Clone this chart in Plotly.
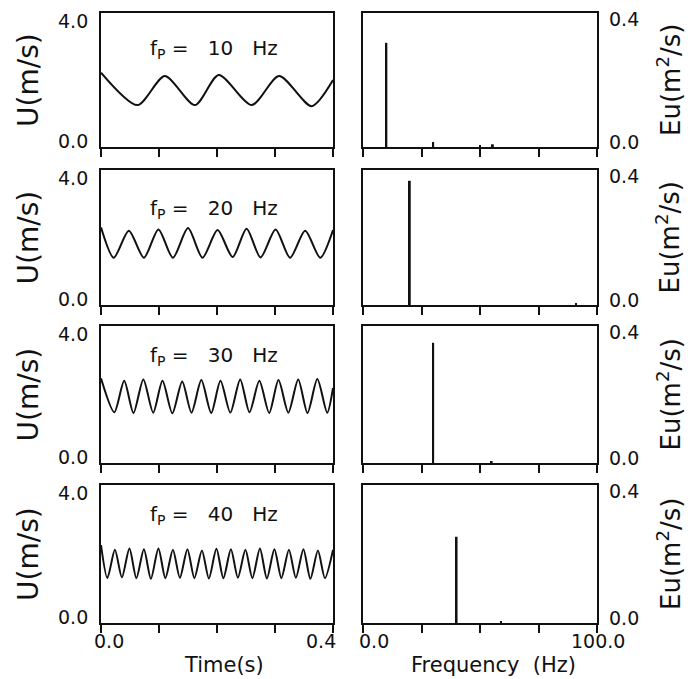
import plotly.graph_objects as go

# ---- velocity traces U(t) for each forcing frequency ----
t10 = [0.000, 0.063, 0.110, 0.162, 0.203, 0.260, 0.307, 0.363, 0.400]
u10 = [2.22, 1.25, 2.12, 1.25, 2.15, 1.25, 2.12, 1.22, 2.00]

t20 = [0.000, 0.022, 0.048, 0.074, 0.099, 0.124, 0.150, 0.175, 0.201,
       0.227, 0.251, 0.275, 0.301, 0.326, 0.352, 0.378, 0.400]
u20 = [2.30, 1.40, 2.20, 1.40, 2.24, 1.40, 2.28, 1.40, 2.22,
       1.42, 2.26, 1.41, 2.24, 1.40, 2.20, 1.40, 2.22]

t30 = [0.000, 0.023, 0.040, 0.056, 0.073, 0.090, 0.106, 0.123, 0.140,
       0.156, 0.173, 0.190, 0.206, 0.223, 0.240, 0.256, 0.273, 0.290,
       0.306, 0.323, 0.340, 0.356, 0.373, 0.390, 0.400]
u30 = [2.47, 1.48, 2.40, 1.46, 2.44, 1.47, 2.40, 1.45, 2.38,
       1.47, 2.42, 1.46, 2.40, 1.47, 2.44, 1.48, 2.40, 1.46,
       2.42, 1.47, 2.44, 1.46, 2.45, 1.47, 2.19]

t40 = [0.000, 0.011, 0.024, 0.036, 0.049, 0.061, 0.074, 0.086, 0.099,
       0.111, 0.124, 0.136, 0.149, 0.161, 0.174, 0.186, 0.199, 0.211,
       0.224, 0.236, 0.249, 0.261, 0.274, 0.286, 0.299, 0.311, 0.324,
       0.336, 0.349, 0.361, 0.374, 0.386, 0.400]
u40 = [2.26, 1.30, 2.12, 1.32, 2.16, 1.30, 2.14, 1.28, 2.16,
       1.30, 2.12, 1.31, 2.14, 1.30, 2.10, 1.29, 2.15, 1.30,
       2.14, 1.31, 2.12, 1.30, 2.16, 1.29, 2.14, 1.30, 2.12,
       1.31, 2.14, 1.28, 2.10, 1.30, 2.12]

# ---- energy spectra Eu(f) ----
f10 = [10.0, 30.0, 50.0, 55.5]
e10 = [0.311, 0.015, 0.006, 0.008]
f20 = [20.0, 91.0]
e20 = [0.368, 0.003]
f30 = [30.0, 55.0]
e30 = [0.351, 0.004]
f40 = [40.0, 59.0]
e40 = [0.250, 0.004]

forcing = ["10", "20", "30", "40"]
times = [t10, t20, t30, t40]
speeds = [u10, u20, u30, u40]
freqs = [f10, f20, f30, f40]
energies = [e10, e20, e30, e40]

time_ticks = [0.0, 0.1, 0.2, 0.3, 0.4]
freq_ticks = [0.0, 25.0, 50.0, 75.0, 100.0]

W, H = 700, 679
FONT = "DejaVu Sans"
INK = "#111111"
NB = "\u00a0"

# panel frame positions in pixels
left_x = (101, 333)
right_x = (363, 597)
panel_top = [13, 170, 326, 485]
panel_bot = [147, 305, 463, 623]
label_y = [49, 209, 356, 515]


def fx(px):
    return px / W


def fy(py):
    return 1 - py / H


fig = go.Figure()
layout = dict(
    width=W, height=H,
    margin=dict(l=0, r=0, t=0, b=0),
    paper_bgcolor="white", plot_bgcolor="white",
    showlegend=False,
    font=dict(family=FONT, color=INK),
)

axis_common = dict(
    showgrid=False, zeroline=False, showline=True, mirror=True,
    linecolor=INK, linewidth=1.5, showticklabels=False,
)

annotations = []

for i in range(4):
    n_l = 2 * i + 1
    n_r = 2 * i + 2
    ydom = [fy(panel_bot[i]), fy(panel_top[i])]

    fig.add_trace(go.Scatter(
        x=times[i], y=speeds[i], mode="lines",
        line=dict(color=INK, width=2, shape="spline", smoothing=0.75),
        xaxis=f"x{n_l}", yaxis=f"y{n_l}", hoverinfo="skip",
    ))
    fig.add_trace(go.Bar(
        x=freqs[i], y=energies[i], width=0.8,
        marker=dict(color=INK, line=dict(width=0)),
        xaxis=f"x{n_r}", yaxis=f"y{n_r}", hoverinfo="skip",
    ))

    layout[f"xaxis{n_l}"] = dict(
        axis_common, domain=[fx(left_x[0]), fx(left_x[1])], range=[0, 0.4],
        anchor=f"y{n_l}", tickvals=time_ticks, ticks="outside",
        ticklen=8, tickwidth=1.5, tickcolor=INK,
    )
    layout[f"yaxis{n_l}"] = dict(
        axis_common, domain=ydom, range=[0, 4.0], anchor=f"x{n_l}", ticks="",
    )
    layout[f"xaxis{n_r}"] = dict(
        axis_common, domain=[fx(right_x[0]), fx(right_x[1])], range=[0, 100],
        anchor=f"y{n_r}", tickvals=freq_ticks, ticks="outside",
        ticklen=8, tickwidth=1.5, tickcolor=INK,
    )
    layout[f"yaxis{n_r}"] = dict(
        axis_common, domain=ydom, range=[0, 0.4], anchor=f"x{n_r}", ticks="",
    )

    mid = (panel_top[i] + panel_bot[i]) / 2

    # left tick labels
    annotations.append(dict(text="4.0", x=fx(90), y=fy(panel_top[i] + 8),
                            xanchor="right", yanchor="middle",
                            font=dict(size=19)))
    annotations.append(dict(text="0.0", x=fx(90), y=fy(panel_bot[i] - 6),
                            xanchor="right", yanchor="middle",
                            font=dict(size=19)))
    # right tick labels
    annotations.append(dict(text="0.4", x=fx(607), y=fy(panel_top[i] + 6),
                            xanchor="left", yanchor="middle",
                            font=dict(size=19)))
    annotations.append(dict(text="0.0", x=fx(607), y=fy(panel_bot[i] - 5),
                            xanchor="left", yanchor="middle",
                            font=dict(size=19)))
    # axis titles
    annotations.append(dict(text="U(m/s)", x=fx(28), y=fy(mid),
                            xanchor="center", yanchor="middle", textangle=-90,
                            font=dict(size=28)))
    annotations.append(dict(text="Eu(m<sup>2</sup>/s)", x=fx(669), y=fy(mid),
                            xanchor="center", yanchor="middle", textangle=-90,
                            font=dict(size=26)))
    # forcing frequency label
    annotations.append(dict(
        text=f"f<sub>P</sub>{NB}={NB * 3}{forcing[i]}{NB * 3}Hz",
        x=fx(214), y=fy(label_y[i]), xanchor="center", yanchor="middle",
        font=dict(size=20)))

# bottom tick labels and axis titles
tick_y = fy(641)
annotations += [
    dict(text="0.0", x=fx(109), y=tick_y, xanchor="center", yanchor="middle",
         font=dict(size=19)),
    dict(text="0.4", x=fx(321), y=tick_y, xanchor="center", yanchor="middle",
         font=dict(size=19)),
    dict(text="0.0", x=fx(374), y=tick_y, xanchor="center", yanchor="middle",
         font=dict(size=19)),
    dict(text="100.0", x=fx(598), y=tick_y, xanchor="center", yanchor="middle",
         font=dict(size=19)),
    dict(text="Time(s)", x=fx(224), y=0, xanchor="center",
         yanchor="bottom", font=dict(size=21)),
    dict(text=f"Frequency{NB * 2}(Hz)", x=fx(493), y=0, xanchor="center",
         yanchor="bottom", font=dict(size=21)),
]

for a in annotations:
    a.update(xref="paper", yref="paper", showarrow=False)

layout["annotations"] = annotations
fig.update_layout(**layout)

fig.write_html("out.html")
